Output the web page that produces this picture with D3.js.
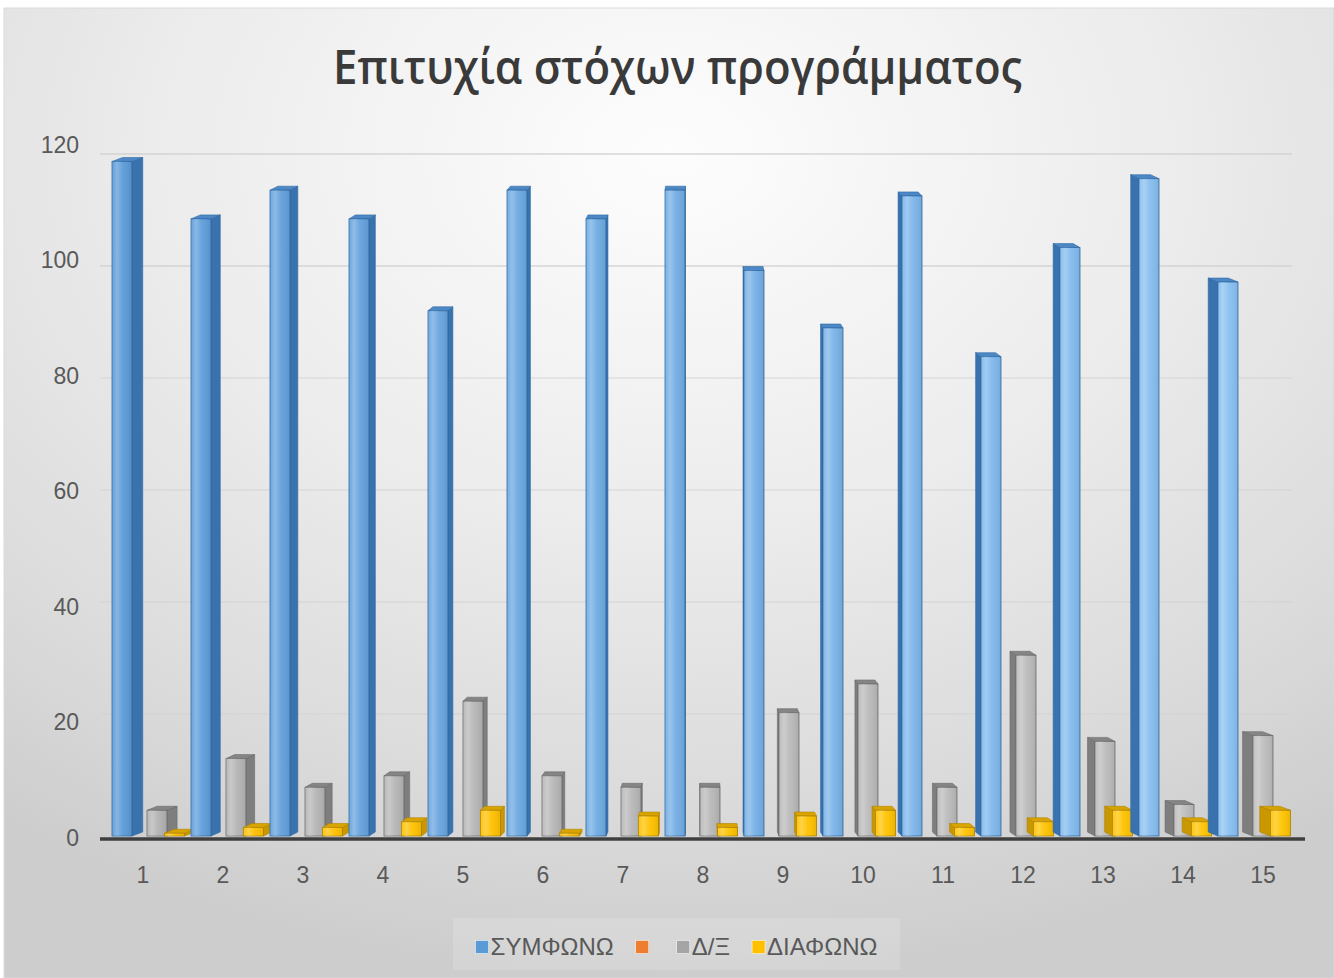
<!DOCTYPE html>
<html><head><meta charset="utf-8">
<script src="https://cdn.jsdelivr.net/npm/d3@7"></script>
<style>html,body{margin:0;padding:0;background:#fff;}svg{display:block;}</style>
</head><body><svg id="chart" width="1334" height="978"></svg>
<script>
const chartTitle = "Επιτυχία στόχων προγράμματος";
const categories = ["1","2","3","4","5","6","7","8","9","10","11","12","13","14","15"];
const seriesNames = ["ΣΥΜΦΩΝΩ", "", "Δ/Ξ", "ΔΙΑΦΩΝΩ"];
const symfono  = [118,108,113,108,92,113,108,113,99,89,112,84,103,115,97];
const blank    = [0,0,0,0,0,0,0,0,0,0,0,0,0,0,0];
const dxValues = [5,14,9,11,24,11,9,9,22,27,9,32,17,6,18];
const diafono  = [1,2,2,3,5,1,4,2,4,5,2,3,5,3,5];
const yTicks   = [0,20,40,60,80,100,120];

const seriesValues = [symfono, blank, dxValues, diafono];
const seriesColors = [
  {front:["#5b9ad8","#8cc3f3"], side:"#3a72ad", top:"#4c88c6", stroke:"#2f69a4", legend:"#5b9bd5"},
  {front:["#ed7d31","#ed7d31"], side:"#b85f20", top:"#c96a25", stroke:"#a85518", legend:"#ed7d31"},
  {front:["#b3b3b3","#bdbdbd"], side:"#7e7e7e", top:"#858585", stroke:"#6c6c6c", legend:"#a5a5a5"},
  {front:["#ffc000","#ffc400"], side:"#c99700", top:"#d9a400", stroke:"#b08400", legend:"#ffc000"}
];

const svg = d3.select("#chart");
const W = 1334, H = 978;
const defs = svg.append("defs");

const bg = defs.append("radialGradient").attr("id","bg")
  .attr("cx","0.5").attr("cy","0.15").attr("r","0.85");
bg.append("stop").attr("offset","0").attr("stop-color","#fdfdfd");
bg.append("stop").attr("offset","0.45").attr("stop-color","#ececec");
bg.append("stop").attr("offset","0.8").attr("stop-color","#dadada");
bg.append("stop").attr("offset","1").attr("stop-color","#cdcdcd");

const shine = defs.append("linearGradient").attr("id","shine")
  .attr("x1","0").attr("x2","1").attr("y1","0").attr("y2","0");
shine.append("stop").attr("offset","0").attr("stop-color","#fff").attr("stop-opacity",0.05);
shine.append("stop").attr("offset","0.25").attr("stop-color","#fff").attr("stop-opacity",0.28);
shine.append("stop").attr("offset","0.55").attr("stop-color","#fff").attr("stop-opacity",0.05);
shine.append("stop").attr("offset","1").attr("stop-color","#000").attr("stop-opacity",0.08);

svg.append("rect").attr("width",W).attr("height",H).attr("fill","#ffffff");
svg.append("rect").attr("x",4).attr("y",8).attr("width",W-4).attr("height",H-8)
  .attr("fill","url(#bg)").attr("stroke","#d9d9d9");

// title
svg.append("text").attr("x",677.5).attr("y",84).attr("text-anchor","middle")
  .attr("font-family","'Open Sans','Noto Sans',sans-serif").attr("font-weight",600)
  .attr("font-size",47).attr("fill","#3a3a3a")
  .attr("textLength",689).attr("lengthAdjust","spacingAndGlyphs")
  .text(chartTitle);

// scales
const xFront = d3.scaleBand().domain(categories).range([103,1303]);
const xBack  = d3.scaleBand().domain(categories).range([108.5,1293.5]);
const xSeries = d3.scaleBand().domain(d3.range(seriesNames.length)).range([-36,34]);
const yBar  = d3.scaleLinear().domain([0,120]).range([839,150]);
const yAxisScale = d3.scaleLinear().domain([0,120]).range([838,145]);
const yBack = d3.scaleLinear().domain([0,120]).range([826,154]);
const depthX = d3.scaleLinear().domain(xBack.range()).range([11,-11]);
const depthY = 4;
const frontW = xSeries.bandwidth() + 2.5;

// gridlines on back wall
svg.append("g").selectAll("line").data(yTicks.filter(t => t > 0)).join("line")
  .attr("x1",100).attr("x2",1292)
  .attr("y1",d => yBack(d)).attr("y2",d => yBack(d))
  .attr("stroke","#d0d0d0").attr("stroke-width",1.5).attr("opacity",d => d >= 100 ? 0.85 : 0.55);

// bars
const barsG = svg.append("g");
categories.forEach((cat, ci) => {
  const g = xBack(cat) + xBack.bandwidth()/2;
  seriesValues.forEach((vals, si) => {
    const v = vals[ci];
    if (!v) return;
    const col = seriesColors[si];
    const x0 = g + xSeries(si);
    const x1 = x0 + frontW;
    const yt = yBar(v), yb = yBar(0) - 3;
    const dxs = depthX(x0 + frontW/2);
    const frontCol = d3.scaleLinear().domain(xBack.range()).range(col.front).interpolate(d3.interpolateRgb)(x0);
    const bg = barsG.append("g");
    const sx = dxs >= 0 ? x1 : x0;
    bg.append("path")
      .attr("d", `M${sx},${yt} L${sx+dxs},${yt-depthY} L${sx+dxs},${yb-depthY} L${sx},${yb} Z`)
      .attr("fill", col.side).attr("stroke", col.stroke).attr("stroke-width",0.6);
    bg.append("path")
      .attr("d", `M${x0},${yt} L${x0+dxs},${yt-depthY} L${x1+dxs},${yt-depthY} L${x1},${yt} Z`)
      .attr("fill", col.top).attr("stroke", col.stroke).attr("stroke-width",0.6);
    bg.append("rect").attr("x",x0).attr("y",yt).attr("width",frontW).attr("height",yb-yt)
      .attr("fill",frontCol).attr("stroke",col.stroke).attr("stroke-width",0.8);
    bg.append("rect").attr("x",x0).attr("y",yt).attr("width",frontW).attr("height",yb-yt)
      .attr("fill","url(#shine)");
  });
});

// category axis line
svg.append("line")
  .attr("x1", xFront.range()[0]-3).attr("x2", xFront.range()[1]+2)
  .attr("y1", yBar(0)).attr("y2", yBar(0))
  .attr("stroke","#3f3f3f").attr("stroke-width",3.5);

// y axis labels
const yAx = svg.append("g").attr("transform","translate(79,0)")
  .call(d3.axisLeft(yAxisScale).tickValues(yTicks).tickSize(0).tickPadding(0));
yAx.select(".domain").remove();
yAx.selectAll("text").attr("font-family","'Liberation Sans',Arial,sans-serif")
  .attr("font-size",23).attr("fill","#595959");

// x axis labels
const xAx = svg.append("g").attr("transform","translate(0,866.5)")
  .call(d3.axisBottom(xFront).tickSize(0).tickPadding(0));
xAx.select(".domain").remove();
xAx.selectAll("text").attr("font-family","'Liberation Sans',Arial,sans-serif")
  .attr("font-size",23).attr("fill","#595959");

// legend
svg.append("rect").attr("x",453).attr("y",918).attr("width",447).attr("height",52)
  .attr("fill","#ffffff").attr("opacity",0.15);
const leg = svg.append("g");
let lx = 0;
seriesNames.forEach((name, i) => {
  const it = leg.append("g").attr("transform",`translate(${lx},0)`);
  it.append("rect").attr("x",0).attr("y",-6.5).attr("width",13).attr("height",13)
    .attr("fill",seriesColors[i].legend).attr("stroke","#ffffff").attr("stroke-width",0.5);
  const t = it.append("text").attr("x",15).attr("y",0).attr("dy","0.35em")
    .attr("font-family","'Liberation Sans',Arial,sans-serif").attr("font-size",24)
    .attr("fill","#595959").text(name);
  const tw = name ? t.node().getComputedTextLength() : 0;
  lx += 15 + tw + (name ? 22 : 26);
});
const legW = lx - 22;
leg.attr("transform",`translate(${676.5 - legW/2},947)`);
</script></body></html>
